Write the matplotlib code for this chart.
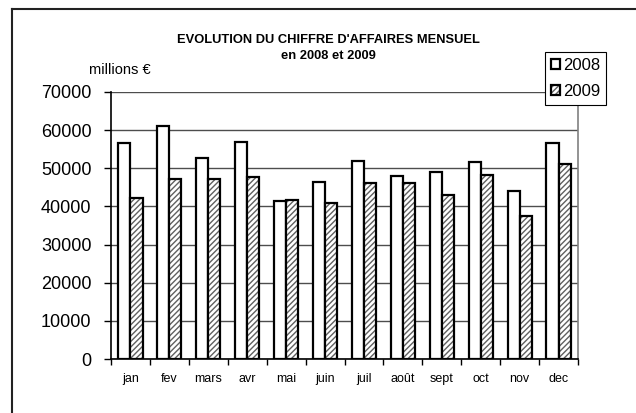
import matplotlib
matplotlib.use("Agg")
import matplotlib.pyplot as plt
import numpy as np
from matplotlib.patches import Patch
from matplotlib.legend_handler import HandlerTuple
from matplotlib.lines import Line2D

plt.rcParams['font.family'] = ['Liberation Sans', 'DejaVu Sans']

months = ["jan", "fev", "mars", "avr", "mai", "juin", "juil", "août", "sept", "oct", "nov", "dec"]
ca_2008 = [56600, 61000, 52700, 56900, 41400, 46400, 51900, 47900, 49000, 51600, 44100, 56600]
ca_2009 = [42200, 47200, 47200, 47600, 41700, 41000, 46100, 46100, 42900, 48200, 37500, 51000]
yticks = [0, 10000, 20000, 30000, 40000, 50000, 60000, 70000]

fig = plt.figure(figsize=(6.36, 4.13), dpi=100)
ax = fig.add_axes([111/636, 1-359/413, (578-111)/636, (359-92)/413])

x = np.arange(len(months))
w = 0.31
ax.bar(x - w/2, ca_2008, w, facecolor='white', edgecolor='black', linewidth=1.6, zorder=3)
ax.bar(x + w/2, ca_2009, w, facecolor='white', edgecolor='#606060', hatch='//////', linewidth=0, zorder=3)
ax.bar(x + w/2, ca_2009, w, fill=False, edgecolor='black', linewidth=1.6, zorder=4)

ax.set_xlim(-0.5, len(months) - 0.5)
ax.set_ylim(0, 70000)
ax.set_yticks(yticks)
ax.set_yticklabels([str(v) for v in yticks], fontsize=13)
ax.set_xticks(x)
ax.set_xticklabels(months, fontsize=9)
ax.tick_params(axis='x', length=0, pad=10)
ax.set_xticks(np.arange(len(months) + 1) - 0.5, minor=True)
ax.tick_params(axis='x', which='minor', length=4, width=1, color='black', direction='out')
ax.tick_params(axis='y', length=5, width=1, color='black', direction='out', pad=9)
ax.grid(axis='y', color='#4d4d4d', linewidth=1.0, zorder=0)
ax.set_axisbelow(True)
ax.spines['top'].set_visible(False)
ax.spines['right'].set_color('#808080')
ax.spines['right'].set_linewidth(1.2)
ax.spines['left'].set_color('black')
ax.spines['bottom'].set_color('black')
ax.spines['left'].set_linewidth(1.2)
ax.spines['bottom'].set_linewidth(1.2)

fig.text(328/636, 1-40/413, "EVOLUTION DU CHIFFRE D'AFFAIRES MENSUEL", ha='center', va='center',
         fontsize=9.3, fontweight='bold')
fig.text(328/636, 1-56/413, "en 2008 et 2009", ha='center', va='center', fontsize=9.3, fontweight='bold')
fig.text(89/636, 1-70/413, "millions €", ha='left', va='center', fontsize=10.5)

h08 = Patch(facecolor='white', edgecolor='black', linewidth=1.6)
h09a = Patch(facecolor='white', edgecolor='#606060', hatch='//////', linewidth=0)
h09b = Patch(fill=False, edgecolor='black', linewidth=1.6)
leg = fig.legend([h08, (h09a, h09b)], ["2008", "2009"],
                 handler_map={tuple: HandlerTuple(ndivide=1)},
                 loc='upper left', bbox_to_anchor=(545/636, 1-52/413),
                 fontsize=12, frameon=True, fancybox=False, framealpha=1,
                 edgecolor='black', handlelength=0.55, handleheight=0.55,
                 handletextpad=0.2, borderpad=0.35, labelspacing=0.65, borderaxespad=0)
leg.get_frame().set_linewidth(0.8)

fig.add_artist(Line2D([11.5/636, 1.0], [1-8.5/413, 1-8.5/413], color='#222222', linewidth=1.5))
fig.add_artist(Line2D([11.5/636, 11.5/636], [1-8.5/413, 0], color='#222222', linewidth=1.5))

fig.savefig("out.png", dpi=100)
